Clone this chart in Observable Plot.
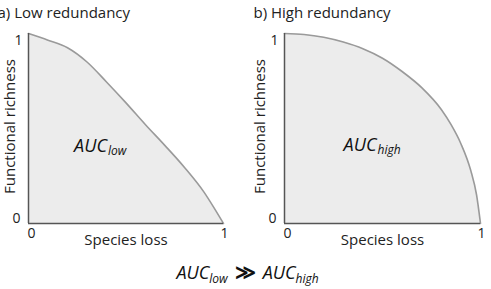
<!DOCTYPE html>
<html>
<head>
<meta charset="utf-8">
<script src="https://cdn.jsdelivr.net/npm/d3@7"></script>
<script src="https://cdn.jsdelivr.net/npm/@observablehq/plot@0.6"></script>
<style>
  html, body { margin: 0; padding: 0; background: #fff; }
  body { width: 491px; height: 289px; overflow: hidden; font-family: "Open Sans", sans-serif; }
  #row { display: flex; width: 491px; height: 250px; }
  #foot { position: relative; height: 39px; width: 491px; font-size: 18px; color: #111; }
  #foot .t { position: absolute; left: 2px; width: 491px; top: 12px; text-align: center; white-space: nowrap; line-height: 20px; }
  #foot sub { font-size: 12px; vertical-align: -4px; line-height: 0; }
  #foot .op { font-style: normal; font-weight: bold; font-size: 20px; margin: 0 7px; }
</style>
</head>
<body>
<div id="row"></div>
<div id="foot"><div class="t"><i>AUC<sub>low</sub></i><span class="op">≫</span><i>AUC<sub>high</sub></i></div></div>
<script>
// Panel titles
const titles = ["a) Low redundancy", "b) High redundancy"];
const xLabel = "Species loss";
const yLabel = "Functional richness";
const tickValues = [0, 1];
const aucSubs = ["low", "high"];

// Panel a: low redundancy (near-linear decline)
const lowLoss     = [0, 0.1, 0.2, 0.3, 0.4, 0.5, 0.6, 0.7, 0.8, 0.9, 0.95, 1];
const lowRichness = [1, 0.965, 0.925, 0.85, 0.745, 0.635, 0.52, 0.41, 0.295, 0.165, 0.085, 0];

// Panel b: high redundancy (quarter-circle-like)
const highLoss     = [0, 0.1, 0.2, 0.3, 0.4, 0.5, 0.6, 0.7, 0.8, 0.85, 0.9, 0.95, 0.98, 1];
const highRichness = [1, 0.995, 0.98, 0.955, 0.92, 0.87, 0.8, 0.715, 0.6, 0.52, 0.42, 0.28, 0.15, 0];

const FONT = "Open Sans, sans-serif";
const fmt = d3.format("d");

function panel(loss, rich, title, sub, opts) {
  const data = loss.map((x, i) => ({x, y: rich[i]}));
  return Plot.plot({
    width: opts.width,
    height: 250,
    marginLeft: opts.ml,
    marginRight: opts.mr,
    marginTop: 33,
    marginBottom: 27,
    x: {domain: [0, 1]},
    y: {domain: [0, 1]},
    style: {fontFamily: FONT, fontSize: "14px", color: "#222", background: "white", overflow: "visible"},
    marks: [
      Plot.areaY(data, {x: "x", y: "y", fill: "#ececec", curve: "monotone-x"}),
      Plot.line(data, {x: "x", y: "y", stroke: "#9a9a9a", strokeWidth: 1.6, curve: "monotone-x"}),
      Plot.ruleX([0], {stroke: "#555", strokeWidth: 1.5}),
      Plot.ruleY([0], {stroke: "#555", strokeWidth: 1.5}),
      Plot.axisY([tickValues[1]], {tickSize: 0, tickPadding: 6, dy: 7, fontSize: 14, tickFormat: fmt, label: null}),
      Plot.axisY([tickValues[0]], {tickSize: 0, tickPadding: 8, dy: -5, fontSize: 14, tickFormat: fmt, label: null}),
      Plot.axisX([tickValues[0]], {tickSize: 0, tickPadding: 5, dx: 3, fontSize: 14, tickFormat: fmt, label: null}),
      Plot.axisX([tickValues[1]], {tickSize: 0, tickPadding: 5, dx: 1, fontSize: 14, tickFormat: fmt, label: null}),
      Plot.text([xLabel], {frameAnchor: "bottom", textAnchor: "middle", dy: 21, fontSize: 15, fill: "#222"}),
      Plot.text([yLabel], {frameAnchor: "left", textAnchor: "middle", rotate: -90, dx: -opts.ml + 10, dy: -2, fontSize: 15, fill: "#222"}),
      Plot.text([title], {frameAnchor: "top-left", textAnchor: "start", dx: -opts.ml + opts.tx, dy: -26, fontSize: 15, fill: "#222"}),
      Plot.text(["AUC"], {frameAnchor: "middle", textAnchor: "end", dx: opts.adx, dy: opts.ady, fontSize: 18, fontStyle: "italic", fill: "#111"}),
      Plot.text([sub], {frameAnchor: "middle", textAnchor: "start", dx: opts.adx + 1, dy: opts.ady + 5, fontSize: 12, fontStyle: "italic", fill: "#111"})
    ]
  });
}

const row = document.getElementById("row");
row.appendChild(panel(lowLoss, lowRichness, titles[0], aucSubs[0], {width: 250, ml: 28, mr: 27, tx: -3, adx: -19, ady: 18}));
row.appendChild(panel(highLoss, highRichness, titles[1], aucSubs[1], {width: 241, ml: 34, mr: 11, tx: 3, adx: -6, ady: 17}));
</script>
</body>
</html>
